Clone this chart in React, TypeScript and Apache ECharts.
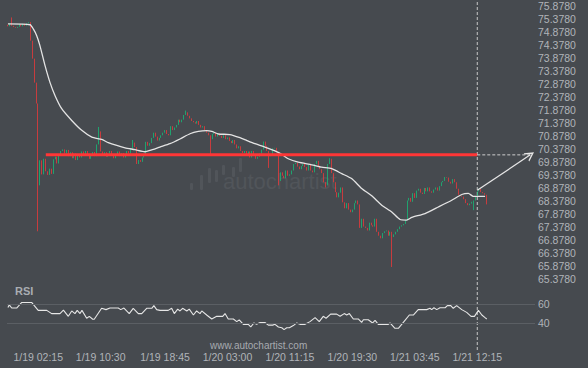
import React, { useEffect, useRef } from 'react';
import * as echarts from 'echarts';

// ---------- data ----------
const N_SLOTS = 279; // 15-minute slots on the time axis (incl. projection area)
const firstOpen = 75.14;
const closes: number[] = [
  75.08, 75.18, 75.10, 75.05, 75.02, 75.06, 75.16, 75.08, 75.18, 75.10,
  75.20, 75.24, 74.53, 73.84, 72.92, 72.12, 68.98, 69.94, 69.40, 70.00,
  69.52, 69.38, 69.62, 69.42, 69.98, 70.08, 69.82, 70.12, 70.30, 70.36,
  70.20, 70.34, 70.10, 70.25, 70.02, 70.20, 69.95, 70.15, 70.05, 70.28,
  70.12, 70.30, 70.18, 70.00, 70.15, 70.26, 70.10, 70.55, 71.05, 70.28,
  70.15, 70.25, 70.08, 70.20, 70.30, 70.12, 70.02, 70.18, 70.28, 70.10,
  70.22, 70.05, 70.18, 70.30, 70.20, 70.40, 70.62, 70.45, 69.80, 69.95,
  69.88, 70.05, 70.15, 70.65, 70.50, 70.60, 70.80, 71.00, 70.85, 70.70,
  70.80, 70.90, 71.00, 71.10, 70.95, 70.90, 71.25, 71.10, 71.20, 71.30,
  71.50, 71.40, 71.50, 71.68, 71.78, 71.65, 71.55, 71.45, 71.40, 71.35,
  71.45, 71.30, 71.20, 71.25, 71.10, 71.00, 70.90, 70.75, 70.95, 71.00,
  70.85, 70.95, 70.88, 70.80, 70.90, 70.75, 70.82, 70.68, 70.60, 70.72,
  70.55, 70.40, 70.48, 70.30, 70.22, 70.30, 70.15, 70.28, 70.05, 70.30,
  70.18, 70.00, 70.08, 70.20, 70.35, 70.66, 70.50, 70.30, 70.10, 70.15,
  70.40, 70.42, 70.25, 69.15, 69.48, 69.35, 69.25, 69.55, 69.35, 69.40,
  69.55, 69.80, 69.85, 69.70, 69.60, 69.72, 69.80, 69.68, 69.55, 69.78,
  69.55, 69.48, 69.80, 69.92, 69.72, 69.60, 69.45, 69.10, 68.98, 69.80,
  70.00, 69.45, 69.10, 68.72, 68.52, 68.70, 68.90, 68.33, 68.10, 68.30,
  68.05, 67.95, 68.05, 68.30, 68.40, 68.25, 67.35, 67.70, 67.40, 67.35,
  67.25, 67.55, 67.45, 67.40, 67.70, 67.20, 67.05, 66.95, 67.15, 67.22,
  67.25, 67.05, 67.20, 67.00, 67.10, 67.20, 67.30, 67.40, 67.45, 67.50,
  67.65, 68.40, 68.50, 68.35, 68.68, 68.50, 68.78, 68.85, 68.70, 68.65,
  68.88, 68.75, 68.90, 68.75, 68.70, 68.82, 68.90, 68.78, 68.95, 69.10,
  69.15, 69.30, 69.28, 69.12, 69.05, 69.22, 69.10, 68.85, 68.62, 68.58,
  68.55, 68.45, 68.30, 68.22, 68.28, 68.35, 68.40, 68.55, 68.75, 68.85,
  68.72, 68.68, 68.62, 68.25,
];
const wickHighs: [number, number][] = [[2, 75.42], [48, 71.22], [66, 70.72], [94, 71.85], [170, 70.02]];
const wickLows: [number, number][] = [[16, 67.22], [107, 70.13], [138, 69.65], [143, 68.98], [168, 68.90], [203, 65.85], [246, 68.03]];

// moving average as [slot, value]
const maPoints: [number, number][] = [
  [0, 75.17], [11.7, 75.14], [13.4, 74.98], [15.2, 74.72], [16.9, 74.34], [19.6, 73.57], [22.2, 72.93],
  [24.9, 72.42], [28.4, 71.92], [33.7, 71.47], [39.0, 71.09], [44.3, 70.83], [49.5, 70.74], [53.0, 70.62],
  [57.5, 70.51], [61.9, 70.42], [67.1, 70.35], [72.4, 70.27], [75.1, 70.32], [80.3, 70.45], [85.6, 70.58],
  [90.9, 70.76], [96.2, 70.96], [100.6, 71.05], [105.0, 71.08], [107.7, 71.05], [111.2, 70.95], [117.3, 70.93],
  [122.6, 70.81], [126.3, 70.70], [130.5, 70.58], [135.8, 70.45], [141.1, 70.30], [144.7, 70.17], [148.1, 70.00],
  [153.4, 69.87], [160.5, 69.77], [165.8, 69.68], [171.1, 69.62], [176.4, 69.43], [181.6, 69.24], [186.9, 68.86],
  [192.2, 68.58], [197.5, 68.22], [202.8, 67.96], [207.2, 67.67], [210.7, 67.65], [213.4, 67.75], [220.4, 67.90],
  [227.4, 68.15], [234.5, 68.41], [239.8, 68.63], [243.3, 68.67], [245.9, 68.56], [252.1, 68.56],
];

// RSI as [slot, value]
const rsiPoints: [number, number][] = [
  [0, 56.6], [0.7, 59.5], [2.0, 56.1], [4.6, 56.1], [7.3, 62.0], [12.5, 62.0], [16.0, 53.6], [20.5, 53.6],
  [23.1, 50.2], [27.5, 50.2], [29.3, 53.8], [31.9, 47.3], [33.7, 53.0], [35.4, 50.2], [36.6, 53.6], [38.1, 50.2],
  [39.1, 53.6], [41.6, 45.3], [43.0, 47.3], [44.8, 44.2], [45.6, 44.2], [49.5, 55.8], [51.8, 54.4], [53.9, 56.1],
  [58.3, 56.1], [59.6, 54.4], [61.3, 56.1], [64.1, 50.2], [66.2, 55.8], [68.9, 50.2], [70.7, 50.2], [73.3, 55.8],
  [76.0, 55.8], [77.1, 58.6], [78.6, 54.4], [80.3, 53.6], [84.7, 53.6], [86.5, 55.8], [87.9, 50.2], [89.7, 54.9],
  [90.9, 53.0], [92.3, 55.8], [94.5, 53.0], [95.8, 54.9], [98.0, 48.7], [99.7, 53.0], [101.5, 50.2], [102.4, 53.0],
  [105.0, 48.7], [107.7, 44.5], [110.3, 47.3], [113.5, 47.3], [114.7, 50.2], [116.4, 44.5], [119.1, 44.5],
  [120.9, 41.7], [122.2, 43.6], [124.4, 38.8], [127.0, 38.8], [128.3, 36.0], [130.0, 40.3], [131.4, 38.8],
  [133.2, 40.8], [135.8, 40.8], [137.6, 38.0], [139.9, 38.0], [141.1, 38.8], [142.9, 36.0], [144.7, 35.2],
  [145.9, 33.2], [147.3, 35.2], [148.7, 35.2], [150.8, 37.5], [152.6, 40.3], [154.3, 38.8], [157.0, 38.8],
  [159.6, 41.7], [162.3, 45.9], [164.5, 41.7], [166.6, 47.3], [168.1, 45.3], [170.5, 49.6], [173.7, 49.6],
  [175.5, 47.3], [177.7, 50.2], [179.0, 48.7], [180.4, 50.2], [182.5, 44.5], [185.1, 44.5], [186.9, 40.8],
  [187.8, 43.6], [190.4, 43.6], [192.7, 40.3], [194.0, 43.1], [195.7, 38.8], [201.0, 38.8], [201.9, 40.3],
  [204.5, 34.6], [206.3, 34.6], [209.8, 43.1], [212.1, 48.7], [214.2, 48.7], [216.8, 54.4], [221.3, 54.4],
  [223.0, 55.8], [223.9, 54.4], [225.1, 56.4], [226.6, 54.4], [228.3, 56.4], [231.0, 56.4], [232.2, 58.6],
  [234.0, 58.6], [235.3, 55.8], [237.1, 58.6], [239.8, 54.4], [242.4, 51.5], [244.7, 47.3], [246.5, 47.3],
  [248.6, 53.6], [250.4, 48.7], [252.1, 45.9], [253.0, 44.5],
];

const tickLabels = ['1/19 02:15', '1/19 10:30', '1/19 18:45', '1/20 03:00', '1/20 11:15', '1/20 19:30', '1/21 03:45', '1/21 12:15'];
const tickIndex = [16, 49, 83, 116, 149, 182, 215, 248];
const rsiLevels = [40, 60];

const priceMin = 65.378;
const priceMax = 75.878;
const priceStep = 0.5;

const levelPrice = 70.15;
const levelStart = 20;
const signalIndex = 248;
const signalPrice = 68.79;
const targetIndex = 276;

// ---------- styling ----------
const BG = '#464a4f';
const UP = '#10c87c';
const DOWN = '#ff3636';
const LABEL = '#b0b4b9';
const FONT = '"Liberation Sans", Arial, sans-serif';
const WM = '#51555a';

const categories = Array.from({ length: N_SLOTS }, (_, i) => {
  const k = tickIndex.indexOf(i);
  return k >= 0 ? tickLabels[k] : '';
});

const candles = closes.map((c, i) => {
  const o = i === 0 ? firstOpen : closes[i - 1];
  let lo = Math.min(o, c);
  let hi = Math.max(o, c);
  wickLows.forEach(([j, v]) => { if (j === i) lo = Math.min(lo, v); });
  wickHighs.forEach(([j, v]) => { if (j === i) hi = Math.max(hi, v); });
  return [o, c, lo, hi];
});

const GL = 7;
const GW = 528;

export default function App() {
  const ref = useRef<HTMLDivElement>(null);
  useEffect(() => {
    if (!ref.current) return;
    const chart = echarts.init(ref.current, undefined, { renderer: 'svg' });
    const valueX = (gridIndex: number) => ({
      type: 'value' as const, gridIndex, min: -0.5, max: N_SLOTS - 0.5, show: false,
      splitLine: { show: false },
    });
    const wmBars = [
      [190, 183, 7], [200, 175, 15], [208, 168, 15], [215, 170, 12], [222, 165, 10], [232, 167, 10], [239, 158, 14],
    ];
    chart.setOption({
      animation: false,
      backgroundColor: BG,
      textStyle: { fontFamily: FONT },
      graphic: [
        ...wmBars.map(([x, y, h]) => ({
          type: 'rect', z: 0, shape: { x, y, width: 3, height: h, r: 1 }, style: { fill: WM },
        })),
        {
          type: 'text', z: 0, x: 223, y: 192,
          style: { text: 'autochartist', fill: WM, font: `22px ${FONT}`, verticalAlign: 'bottom' },
        },
        {
          type: 'text', z: 10, x: 15, y: 291,
          style: { text: 'RSI', fill: '#a9adb2', font: `bold 11px ${FONT}`, verticalAlign: 'middle' },
        },
        {
          type: 'text', z: 10, x: 210, y: 345,
          style: { text: 'www.autochartist.com', fill: '#a6aab0', font: `10px ${FONT}`, verticalAlign: 'middle' },
        },
      ],
      grid: [
        { left: GL, width: GW, top: 4.7, height: 274.6 },
        { left: GL, width: GW, top: 294.9, height: 47.2 },
        { left: GL, width: GW, top: 0, height: 350 },
      ],
      xAxis: [
        { type: 'category', gridIndex: 0, data: categories, boundaryGap: true, show: false },
        valueX(0),
        {
          type: 'category', gridIndex: 1, data: categories, boundaryGap: true,
          axisLine: { show: false }, axisTick: { show: false }, splitLine: { show: false },
          axisLabel: {
            interval: (i: number) => tickIndex.includes(i),
            color: LABEL, fontSize: 10.5, margin: 9, fontFamily: FONT,
          },
        },
        valueX(1),
        valueX(2),
      ],
      yAxis: [
        {
          type: 'value', gridIndex: 0, position: 'right', min: priceMin, max: priceMax, interval: priceStep,
          axisLine: { show: false }, axisTick: { show: false }, splitLine: { show: false },
          axisLabel: { color: LABEL, fontSize: 10.5, margin: 3, fontFamily: FONT, formatter: (v: number) => v.toFixed(4) },
        },
        {
          type: 'value', gridIndex: 1, position: 'right', min: 20, max: 70, interval: 20,
          axisLine: { show: false }, axisTick: { show: false }, splitLine: { show: false },
          axisLabel: {
            color: LABEL, fontSize: 10.5, margin: 3, fontFamily: FONT,
            formatter: (v: number) => (rsiLevels.includes(v) ? String(v) : ''),
          },
        },
        { type: 'value', gridIndex: 2, min: 0, max: 1, show: false, splitLine: { show: false } },
      ],
      series: [
        {
          type: 'candlestick', xAxisIndex: 0, yAxisIndex: 0, data: candles,
          barWidth: 1,
          itemStyle: { color: UP, color0: DOWN, borderColor: UP, borderColor0: DOWN, borderWidth: 0.7 },
          z: 3,
        },
        {
          type: 'line', xAxisIndex: 1, yAxisIndex: 0, data: maPoints, symbol: 'none', smooth: 0.2,
          lineStyle: { color: '#e4e4e4', width: 1.3 }, z: 4,
        },
        {
          type: 'line', xAxisIndex: 1, yAxisIndex: 0, data: [[levelStart, levelPrice], [signalIndex, levelPrice]],
          symbol: 'none', lineStyle: { color: DOWN, width: 3 }, z: 5,
        },
        {
          type: 'line', xAxisIndex: 1, yAxisIndex: 0, data: [[signalIndex, levelPrice], [targetIndex, levelPrice]],
          symbol: 'none', lineStyle: { color: '#cfcfcf', width: 1, type: [3, 2] }, z: 5,
        },
        {
          type: 'line', xAxisIndex: 1, yAxisIndex: 0, data: [[signalIndex, signalPrice], [targetIndex, levelPrice]],
          symbol: 'none', lineStyle: { color: '#e6e6e6', width: 1.2 }, z: 6,
          markLine: {
            silent: true, animation: false,
            symbol: ['none', 'path://M0,10 L5,0 L10,10 L8.4,10 L5,3.2 L1.6,10 Z'],
            symbolSize: [10, 9],
            label: { show: false },
            lineStyle: { color: '#e6e6e6', width: 0, opacity: 1 },
            data: [[{ coord: [signalIndex, signalPrice] }, { coord: [targetIndex, levelPrice] }]],
          },
        },
        {
          type: 'line', xAxisIndex: 3, yAxisIndex: 1, data: rsiPoints, symbol: 'none',
          lineStyle: { color: '#e6e6e6', width: 1.1 }, z: 4,
          markLine: {
            silent: true, animation: false, symbol: ['none', 'none'], label: { show: false },
            lineStyle: { color: '#5b5f64', width: 1, type: 'solid' },
            data: rsiLevels.map((v) => ({ yAxis: v })),
          },
        },
        {
          type: 'line', xAxisIndex: 4, yAxisIndex: 2, data: [[signalIndex, 0], [signalIndex, 1]],
          symbol: 'none', lineStyle: { color: '#c8c8c8', width: 1, type: [3, 2] }, z: 2,
        },
      ],
    });
    return () => chart.dispose();
  }, []);
  return <div ref={ref} style={{ position: 'fixed', left: 0, top: 0, width: 588, height: 368 }} />;
}
